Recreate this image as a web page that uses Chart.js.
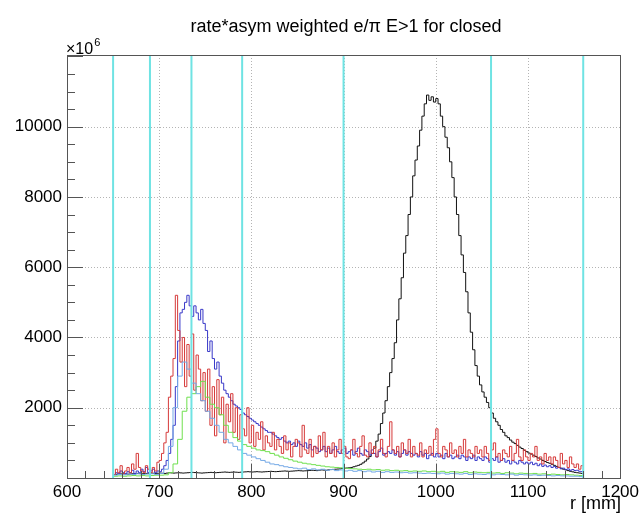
<!DOCTYPE html>
<html>
<head>
<meta charset="utf-8">
<script src="https://cdn.jsdelivr.net/npm/chart.js@4.4.0/dist/chart.umd.min.js"></script>
<style>
  html, body { margin: 0; padding: 0; background: #fff; }
  canvas { display: block; }
</style>
</head>
<body>
<canvas id="c" width="643" height="516"></canvas>
<script>
// histograms start at 650 mm; fine bins 2.5 mm, coarse bins 5 mm
const binStart = 650;
const fineBin = 2.5;
const coarseBin = 5;

const blackVals = [
  100,105,110,115,120,115,110,115,120,125,
  130,125,120,125,130,135,140,135,130,135,
  140,135,130,140,150,145,140,145,150,145,
  140,145,150,155,160,155,150,145,140,145,
  150,155,160,155,150,155,160,165,170,165,
  160,165,170,165,160,165,170,175,180,175,
  170,175,180,175,170,175,180,185,190,185,
  180,185,190,195,200,195,190,195,200,205,
  210,205,200,205,210,215,220,215,210,220,
  230,225,220,230,240,245,250,255,260,270,
  280,285,290,300,320,340,360,390,430,480,
  540,610,700,850,1050,1250,1550,1850,2200,2600,
  3000,3400,3850,4500,5100,5700,6400,6900,7500,8000,
  8600,9050,9450,9900,10300,10650,10900,10750,10850,10700,
  10800,10650,10300,10000,9700,9400,9000,8550,8000,7500,
  6900,6350,5850,5300,4700,4150,3650,3200,2900,2650,
  2450,2300,2150,2000,1850,1700,1600,1500,1380,1300,
  1200,1150,1080,1020,980,930,880,840,790,750,
  710,680,650,610,570,540,500,470,440,420,
  390,360,330,300,280,250,230,210,190,175,
  160,150,140,130
];
const redVals = [
  100,250,150,350,120,200,300,150,400,250,
  700,300,200,150,350,250,150,300,200,450,
  500,700,1000,1300,2300,2900,3400,5200,4200,3300,
  4000,2600,3800,2900,4100,2500,3500,3100,2200,3000,
  1900,3100,1500,2600,1200,2800,1800,2300,1000,2100,
  1600,2400,1300,2000,1100,1800,1400,1200,2000,1000,
  1500,900,1300,1100,1600,800,1200,1000,900,1300,
  800,1100,900,700,1200,800,1000,600,900,1100,
  1000,600,1500,800,700,1100,600,900,700,1200,
  800,1300,600,900,700,1000,600,800,1100,700,
  900,600,550,800,1100,700,600,900,1200,650,
  600,1000,700,900,600,800,1100,700,600,900,
  1600,800,700,900,600,1000,800,700,1100,600,
  900,700,650,1000,600,800,700,900,650,1100,
  1400,700,600,900,800,600,1000,700,800,600,
  900,700,1100,600,800,700,600,900,700,800,
  600,900,700,500,800,1000,600,700,500,800,
  700,600,900,500,700,1100,600,500,800,600,
  500,700,600,900,500,600,400,700,500,600,
  400,600,500,300,700,400,500,300,600,400,
  300,400,250,350
];
const blueVals = [
  100,150,120,200,150,120,180,150,220,130,
  200,150,250,180,300,150,200,250,150,200,
  180,250,350,500,700,1100,1500,2600,3900,4700,
  4800,5000,5200,4900,4600,4900,4700,4500,4800,4400,
  4200,3600,3900,3400,3100,3300,2900,2700,2500,2400,
  2300,2200,2100,2050,2000,1950,1850,1800,1750,1700,
  1650,1600,1550,1500,1450,1400,1350,1300,1300,1250,
  1200,1150,1100,1150,1050,1000,1050,950,1000,900,
  1050,950,900,1000,850,950,800,900,850,750,
  800,900,750,850,700,800,900,750,700,800,
  850,700,750,800,650,750,850,700,650,800,
  750,650,800,700,600,750,850,650,700,750,
  700,800,650,750,600,700,800,650,750,700,
  650,700,600,750,650,700,550,650,700,600,
  700,600,650,550,700,600,650,550,600,650,
  550,650,600,500,600,550,650,500,600,550,
  500,600,550,450,550,500,600,450,500,550,
  450,500,400,500,450,400,500,450,400,450,
  400,450,380,420,350,400,330,370,320,350,
  300,330,280,300,260,280,240,260,220,240,
  210,220,190,180
];
const greenVals = [
  50,60,50,60,70,60,70,60,70,80,
  80,90,150,400,1100,1900,2300,2400,2600,2750,
  2300,2100,2000,1800,1500,1300,1150,1050,950,900,
  850,800,780,750,700,650,600,560,520,480,
  450,420,400,380,360,340,320,310,300,290,
  280,270,260,250,240,250,230,240,220,230,
  210,220,200,210,190,200,190,200,180,190,
  170,190,160,180,170,160,180,150,170,160,
  150,160,140,150,130,150,140,120,140,130,
  120,130,110,120,100,110,100,90,100,90,
  80,70
];
const skyVals = [
  80,100,90,110,100,120,100,110,120,100,
  130,250,900,2000,2900,3300,3100,2700,2400,2200,
  1900,1700,1500,1300,1100,1000,900,800,700,650,
  600,550,500,450,400,380,350,320,300,280,
  260,280,240,260,230,250,220,240,210,230,
  200,220,190,210,180,200,170,190,160,180,
  160,170,150,160,140,150,140,130,140,130,
  120,140,110,130,120,110,130,100,120,110,
  100,120,90,110,100,90,110,80,100,90,
  80,90,70,80,70,60,70,60,60,50,
  50,40
];

const cutLines = [650, 690, 735, 790, 900, 1060, 1160];
const xTicks = [600, 700, 800, 900, 1000, 1100, 1200];
const yTicks = [2000, 4000, 6000, 8000, 10000];
const yMax = 12040;

const FONT = '"Liberation Sans", Arial, Helvetica, sans-serif';

function histPoints(vals, width) {
  const pts = vals.map((v, i) => ({ x: binStart + i * width, y: v }));
  pts.push({ x: binStart + vals.length * width, y: vals[vals.length - 1] });
  return pts;
}

function hist(vals, width, color) {
  return {
    data: histPoints(vals, width),
    borderColor: color,
    borderWidth: 1,
    pointRadius: 0,
    stepped: 'before',
    fill: false
  };
}

const cutSets = cutLines.map(x => ({
  data: [{ x: x, y: 0 }, { x: x, y: yMax }],
  borderColor: '#6fe3e3',
  borderWidth: 2,
  pointRadius: 0,
  fill: false
}));

const rootFrame = {
  id: 'rootFrame',
  beforeDatasetsDraw(chart) {
    const { ctx, chartArea: a, scales: { x, y } } = chart;
    ctx.save();
    ctx.strokeStyle = '#b4b4b4';
    ctx.lineWidth = 1;
    ctx.setLineDash([1, 2]);
    xTicks.slice(1, -1).forEach(v => {
      const px = Math.round(x.getPixelForValue(v)) + 0.5;
      ctx.beginPath(); ctx.moveTo(px, a.top); ctx.lineTo(px, a.bottom); ctx.stroke();
    });
    yTicks.forEach(v => {
      const py = Math.round(y.getPixelForValue(v)) + 0.5;
      ctx.beginPath(); ctx.moveTo(a.left, py); ctx.lineTo(a.right, py); ctx.stroke();
    });
    ctx.restore();
  },
  afterDatasetsDraw(chart) {
    const { ctx, chartArea: a, scales: { x, y } } = chart;
    ctx.save();
    ctx.strokeStyle = '#555';
    ctx.lineWidth = 1;
    ctx.beginPath();
    for (let v = 600; v <= 1200; v += 20) {
      const px = Math.round(x.getPixelForValue(v)) + 0.5;
      const len = v % 100 === 0 ? 14 : 7;
      ctx.moveTo(px, a.bottom); ctx.lineTo(px, a.bottom - len);
    }
    for (let v = 0; v <= yMax; v += 500) {
      const py = Math.round(y.getPixelForValue(v)) + 0.5;
      const len = v % 2000 === 0 ? 16 : 8;
      ctx.moveTo(a.left, py); ctx.lineTo(a.left + len, py);
    }
    ctx.stroke();
    ctx.strokeRect(Math.round(a.left) + 0.5, Math.round(a.top) + 0.5,
      Math.round(a.right - a.left), Math.round(a.bottom - a.top));
    ctx.restore();
  },
  afterDraw(chart) {
    const { ctx, chartArea: a } = chart;
    ctx.save();
    ctx.fillStyle = '#000';
    ctx.textBaseline = 'alphabetic';
    ctx.font = '18px ' + FONT;
    ctx.textAlign = 'center';
    ctx.fillText('rate*asym weighted e/\u03c0 E>1 for closed', 346, 32);
    ctx.textAlign = 'left';
    ctx.font = '16px ' + FONT;
    ctx.fillText('\u00d710', a.left - 1, 54);
    const w = ctx.measureText('\u00d710').width;
    ctx.font = '11px ' + FONT;
    ctx.fillText('6', a.left + w, 46);
    ctx.font = '18px ' + FONT;
    ctx.textAlign = 'right';
    ctx.fillText('r [mm]', a.right + 1, 509);
    ctx.restore();
  }
};

new Chart(document.getElementById('c'), {
  type: 'line',
  data: {
    datasets: [
      ...cutSets,
      hist(skyVals, coarseBin, '#74a9e6'),
      hist(greenVals, coarseBin, '#6fe04e'),
      hist(redVals, fineBin, '#d63a3a'),
      hist(blueVals, fineBin, '#3838c8'),
      hist(blackVals, fineBin, '#111111')
    ]
  },
  options: {
    responsive: false,
    animation: false,
    layout: { padding: { top: 55, right: 21, left: 0, bottom: 0 } },
    plugins: {
      legend: { display: false },
      tooltip: { enabled: false },
      title: { display: false }
    },
    scales: {
      x: {
        type: 'linear',
        min: 600,
        max: 1200,
        afterFit(s) { s.height = 38; },
        afterBuildTicks(s) { s.ticks = xTicks.map(v => ({ value: v })); },
        grid: { display: false, drawTicks: false },
        border: { display: false },
        ticks: {
          padding: 4, color: '#000', maxRotation: 0,
          font: { size: 17, family: FONT },
          callback: v => String(v)
        }
      },
      y: {
        type: 'linear',
        min: 0,
        max: yMax,
        afterFit(s) { s.width = 67; },
        afterBuildTicks(s) { s.ticks = yTicks.map(v => ({ value: v })); },
        grid: { display: false, drawTicks: false },
        border: { display: false },
        ticks: {
          padding: 5, color: '#000',
          font: { size: 17, family: FONT },
          callback: v => String(v)
        }
      }
    }
  },
  plugins: [rootFrame]
});
</script>
</body>
</html>
